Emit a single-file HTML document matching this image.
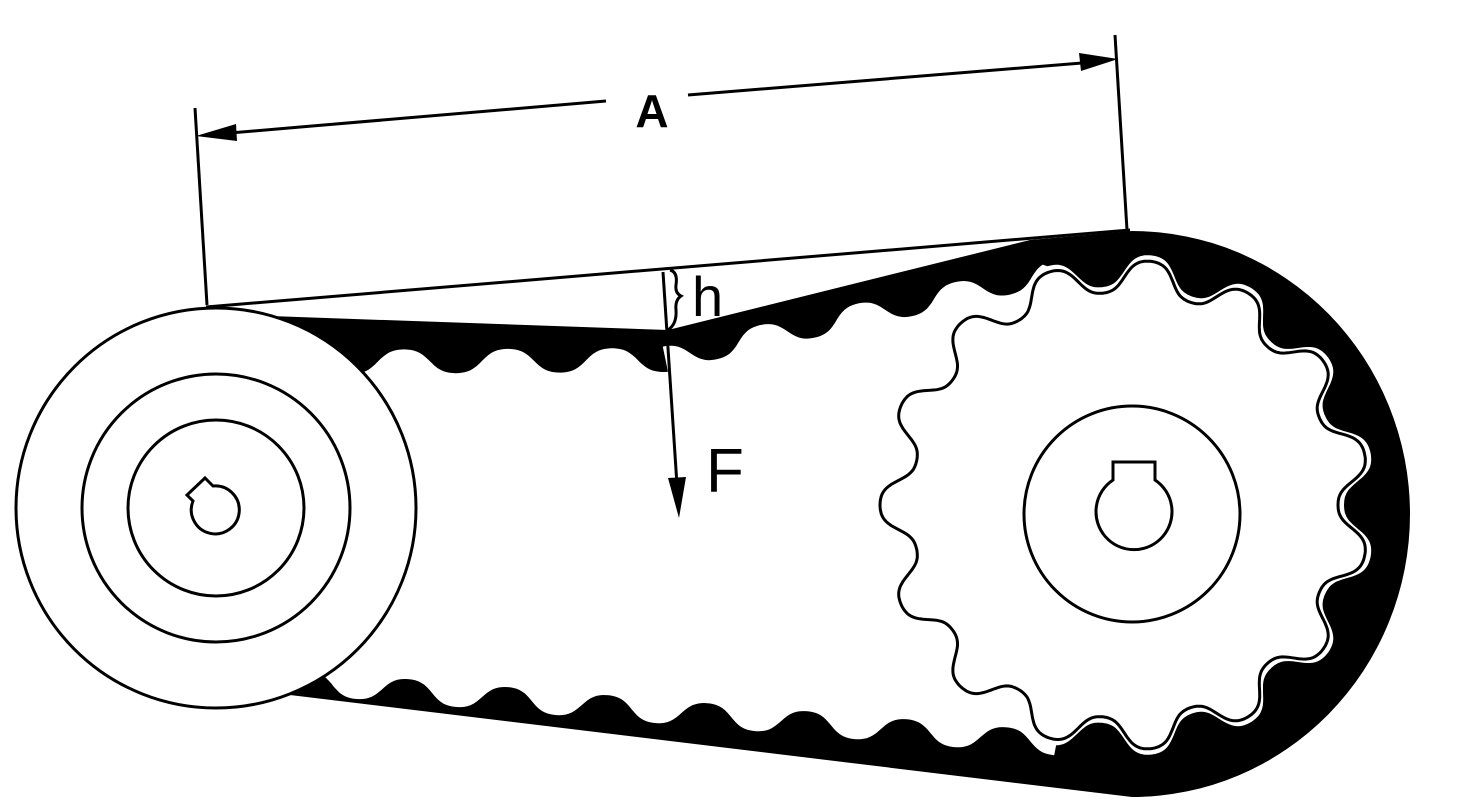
<!DOCTYPE html>
<html><head><meta charset="utf-8"><style>
html,body{margin:0;padding:0;background:#fff;}
svg{display:block}
</style></head><body>
<svg id="s" width="1472" height="808" viewBox="0 0 1472 808" xmlns="http://www.w3.org/2000/svg">
<path id="beltOuter" fill="#000" d="M270,316 L668,330 L1030,240 L1132,231 A278 283 0 0 1 1132,797 L290,695 L330,600 Z"/>
<path id="beltInner" fill="#fff" d=""/>
<path id="sprocket" fill="#fff" stroke="#000" stroke-width="3" d=""/>
<circle cx="1132" cy="514" r="108" fill="none" stroke="#000" stroke-width="3"/>
<path d="M1113,480 L1113,462 L1155,462 L1155,480 A38 38 0 1 1 1113,480 Z" fill="#fff" stroke="#000" stroke-width="3"/>
<circle cx="216" cy="508" r="200" fill="#fff" stroke="#000" stroke-width="3"/>
<circle cx="216" cy="508" r="134" fill="none" stroke="#000" stroke-width="3"/>
<circle cx="216" cy="508" r="88" fill="none" stroke="#000" stroke-width="3"/>
<path d="M213,486 L205,478 L187,495 L193,501 A24 24 0 1 0 213,486 Z" fill="#fff" stroke="#000" stroke-width="3"/>
<line x1="206" y1="307" x2="1130" y2="230" stroke="#000" stroke-width="3"/>
<line x1="195" y1="108" x2="207" y2="305" stroke="#000" stroke-width="3"/>
<line x1="1115" y1="35" x2="1127" y2="230" stroke="#000" stroke-width="3"/>
<line x1="230" y1="133" x2="606" y2="101" stroke="#000" stroke-width="3"/>
<line x1="688" y1="95" x2="1082" y2="63" stroke="#000" stroke-width="3"/>
<polygon points="196,136 236,124 237,141" fill="#000"/>
<polygon points="1118,59 1079,53 1081,71" fill="#000"/>
<text x="652" y="127" font-family="Liberation Sans, sans-serif" font-weight="bold" font-size="46" text-anchor="middle">A</text>
<line x1="663" y1="272" x2="677" y2="485" stroke="#000" stroke-width="3"/>
<polygon points="668,478 686,477 679,518" fill="#000"/>
<path d="M670,270 Q678,272 676,285 Q675,293 681,296 Q675,300 676,310 Q677,324 668,330" fill="none" stroke="#000" stroke-width="3"/>
<text x="692" y="316" font-family="Liberation Sans, sans-serif" font-size="56">h</text>
<text x="706" y="492" font-family="Liberation Sans, sans-serif" font-size="62">F</text>
</svg>
<script>
(function(){
function wave(x0,y0,x1,y1,period,amp,sign,k){
  var dx=x1-x0,dy=y1-y0,L=Math.hypot(dx,dy),ux=dx/L,uy=dy/L,nx=-uy*sign,ny=ux*sign;
  var pts=[],N=Math.ceil(L/3);
  for(var i=0;i<=N;i++){var t=i/N*L;var c=Math.cos(2*Math.PI*t/period);
    var f=Math.tanh(k*c)/Math.tanh(k);var o=amp*(f+1)/2;
    pts.push([x0+ux*t+nx*o,y0+uy*t+ny*o]);}
  return pts;
}
var cx=1125,cy=505,n=15,ph=-84*Math.PI/180;
function sr(a){var c=Math.cos(n*(a-ph));return 229+16*Math.tanh(1.2*c)/Math.tanh(1.2);}
var sp=[];
for(var i=0;i<=720;i++){var a=i/720*2*Math.PI;var r=sr(a);sp.push([cx+r*Math.cos(a),cy+r*Math.sin(a)]);}
document.getElementById('sprocket').setAttribute('d','M'+sp.map(function(p){return p[0].toFixed(1)+','+p[1].toFixed(1)}).join(' L')+'Z');
function spt(d){var a=d*Math.PI/180;var r=sr(a)+6;return [cx+r*Math.cos(a),cy+r*Math.sin(a)];}
var inner=[];
var s0=spt(-108),s1=spt(106);
inner=inner.concat(wave(300,374,668,372,104,24,-1,1.1));
inner=inner.concat(wave(668,370,s0[0],s0[1]+20,100,24,-1,1.1));
for(var d=-108;d<=106;d+=0.5){inner.push(spt(d));}
inner=inner.concat(wave(s1[0],s1[1]-14,320,672,100,24,-1,1.1));
document.getElementById('beltInner').setAttribute('d','M'+inner.map(function(p){return p[0].toFixed(1)+','+p[1].toFixed(1)}).join(' L')+'Z');
})();
</script>
</body></html>
